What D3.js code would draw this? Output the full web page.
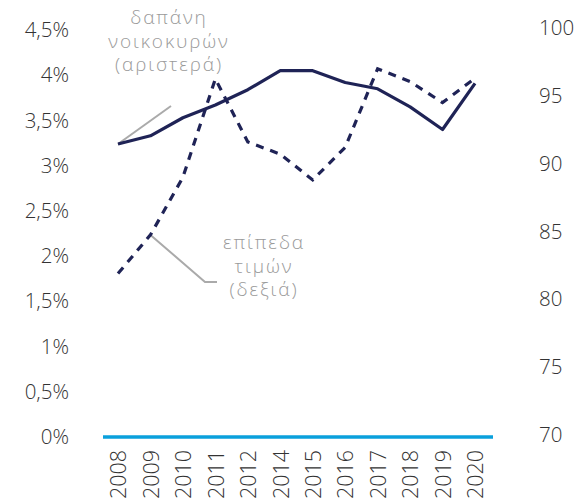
<!DOCTYPE html>
<html>
<head>
<meta charset="utf-8">
<script src="https://cdn.jsdelivr.net/npm/d3@7/dist/d3.min.js"></script>
<style>
  html, body { margin: 0; padding: 0; background: #fff; }
  svg { display: block; font-family: "Open Sans", "Noto Sans", sans-serif; font-weight: 300; }
</style>
</head>
<body>
<svg id="chart" width="585" height="504"></svg>
<script>
const years = ["2008","2009","2010","2011","2012","2014","2015","2016","2017","2018","2019","2020"];
const spending = [3.24, 3.33, 3.53, 3.67, 3.84, 4.05, 4.05, 3.92, 3.85, 3.65, 3.40, 3.91];
const prices = [81.9, 84.75, 89.0, 96.25, 91.6, 90.7, 88.8, 91.2, 97.0, 96.05, 94.5, 96.3];
const leftTicks = [0, 0.5, 1, 1.5, 2, 2.5, 3, 3.5, 4, 4.5];
const rightTicks = [70, 75, 80, 85, 90, 95, 100];
const spendingLabel = ["δαπάνη", "νοικοκυρών", "(αριστερά)"];
const pricesLabel = ["επίπεδα", "τιμών", "(δεξιά)"];

const svg = d3.select("#chart");
const navy = "#1f2356";
const textCol = "#333333";
const grey = "#9a9a9a";

const x = d3.scalePoint().domain(years).range([118, 475]);
const yL = d3.scaleLinear().domain([0, 4.5]).range([437, 30]);
const yR = d3.scaleLinear().domain([70, 100]).range([435, 28]);

// Left axis
const fmtPct = v => String(v).replace(".", ",") + "%";
const leftAxis = d3.axisLeft(yL).tickValues(leftTicks).tickFormat(fmtPct).tickSize(0).tickPadding(0);
const gL = svg.append("g").attr("transform", "translate(69,0)").call(leftAxis);
gL.select(".domain").remove();
gL.selectAll("text").attr("font-size", 20.5).attr("fill", textCol)
  .attr("font-family", "'Open Sans', sans-serif").attr("font-weight", 300);

// Right axis
const rightAxis = d3.axisRight(yR).tickValues(rightTicks).tickFormat(d3.format("d")).tickSize(0).tickPadding(0);
const gR = svg.append("g").attr("transform", "translate(539,0)").call(rightAxis);
gR.select(".domain").remove();
gR.selectAll("text").attr("font-size", 20.5).attr("fill", textCol)
  .attr("font-family", "'Open Sans', sans-serif").attr("font-weight", 300);

// Baseline
svg.append("line")
  .attr("x1", 103).attr("x2", 493)
  .attr("y1", yL(0)).attr("y2", yL(0))
  .attr("stroke", "#0aa0dc").attr("stroke-width", 3.5);

// X labels
const xAxis = d3.axisBottom(x).tickSize(0).tickPadding(0);
const gX = svg.append("g").attr("transform", "translate(0,450)").call(xAxis);
gX.select(".domain").remove();
gX.selectAll("text")
  .attr("font-size", 21.5).attr("fill", textCol)
  .attr("font-family", "'Open Sans', sans-serif").attr("font-weight", 300)
  .attr("text-anchor", "end")
  .attr("transform", "rotate(-90)")
  .attr("x", 0).attr("y", 0).attr("dy", "0.36em");

// Annotation leader lines
svg.append("line")
  .attr("x1", x("2008")).attr("y1", yL(spending[0]))
  .attr("x2", 171).attr("y2", 106)
  .attr("stroke", "#aaaaaa").attr("stroke-width", 2);
svg.append("polyline")
  .attr("points", [[x("2009"), yR(prices[1])], [205, 282], [217, 282]].map(p => p.join(",")).join(" "))
  .attr("fill", "none").attr("stroke", "#aaaaaa").attr("stroke-width", 2);

// Lines
const lineL = d3.line().x((d, i) => x(years[i])).y(d => yL(d));
const lineR = d3.line().x((d, i) => x(years[i])).y(d => yR(d));

svg.append("path").datum(prices)
  .attr("d", lineR).attr("fill", "none")
  .attr("stroke", navy).attr("stroke-width", 3.2)
  .attr("stroke-dasharray", "8,7");

svg.append("path").datum(spending)
  .attr("d", lineL).attr("fill", "none")
  .attr("stroke", navy).attr("stroke-width", 3.2)
  .attr("stroke-linejoin", "round");

// Annotation text
const t1 = svg.append("text").attr("x", 169).attr("y", 24)
  .attr("text-anchor", "middle").attr("font-size", 19).attr("letter-spacing", 1.9).attr("fill", grey);
spendingLabel.forEach((s, i) => t1.append("tspan").attr("x", 169).attr("dy", i === 0 ? 0 : 23.5).text(s));

const t2 = svg.append("text").attr("x", 264).attr("y", 249)
  .attr("text-anchor", "middle").attr("font-size", 19).attr("letter-spacing", 1.9).attr("fill", grey);
pricesLabel.forEach((s, i) => t2.append("tspan").attr("x", 264).attr("dy", i === 0 ? 0 : 23.5).text(s));
</script>
</body>
</html>
